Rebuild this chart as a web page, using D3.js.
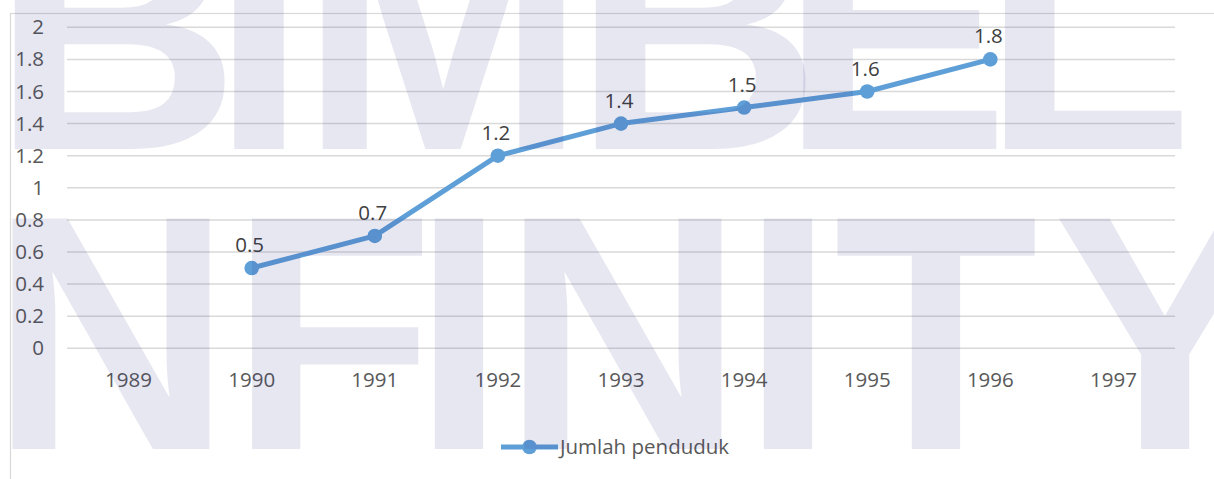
<!DOCTYPE html>
<html>
<head>
<meta charset="utf-8">
<script src="https://cdn.jsdelivr.net/npm/d3@7"></script>
<style>
  body { margin: 0; background: #fff; }
  svg { display: block; }
</style>
</head>
<body>
<div id="chart"></div>
<script>
// Jumlah penduduk per tahun (line chart with data labels)

const years = ["1989", "1990", "1991", "1992", "1993", "1994", "1995", "1996", "1997"];
const penduduk = [null, 0.5, 0.7, 1.2, 1.4, 1.5, 1.6, 1.8, null];
const yTicks = [0, 0.2, 0.4, 0.6, 0.8, 1, 1.2, 1.4, 1.6, 1.8, 2];
const yTickLabels = ["0", "0.2", "0.4", "0.6", "0.8", "1", "1.2", "1.4", "1.6", "1.8", "2"];
const seriesName = "Jumlah penduduk";

// watermark text (decoration only)
const wmTop = ["B", "I", "M", "B", "E", "L"];
const wmBottom = ["N", "F", "I", "N", "I", "T", "Y"];

const width = 1214, height = 479;
const plot = { left: 67, right: 1175, top: 27.3, bottom: 348.3 };
const blue = "#5f9fd8";
const fontSize = 20.5;

const svg = d3.select("#chart").append("svg")
  .attr("width", width)
  .attr("height", height);

// chart area border
svg.append("rect")
  .attr("x", 10.5).attr("y", 13.5)
  .attr("width", 1400).attr("height", 700)
  .attr("fill", "none")
  .attr("stroke", "#d9d9d9")
  .attr("stroke-width", 1.2);

const x = d3.scaleBand()
  .domain(years)
  .range([plot.left, plot.right]);

const y = d3.scaleLinear()
  .domain([0, 2])
  .range([plot.bottom, plot.top]);

// gridlines
svg.append("g")
  .selectAll("line")
  .data(yTicks)
  .join("line")
    .attr("x1", plot.left)
    .attr("x2", plot.right)
    .attr("y1", d => y(d))
    .attr("y2", d => y(d))
    .attr("stroke", "#d9d9d9")
    .attr("stroke-width", 1.5);

// y axis labels
const yAxis = d3.axisLeft(y)
  .tickValues(yTicks)
  .tickFormat((d, i) => yTickLabels[i])
  .tickSize(0)
  .tickPadding(0);

svg.append("g")
  .attr("transform", "translate(44,0)")
  .call(yAxis)
  .call(g => g.select(".domain").remove())
  .selectAll("text")
    .attr("fill", "#595959")
    .attr("font-family", "'Open Sans', sans-serif")
    .attr("font-size", fontSize);

// x axis labels
const xAxis = d3.axisBottom(x)
  .tickSize(0)
  .tickPadding(0);

svg.append("g")
  .attr("transform", `translate(0,${plot.bottom + 24})`)
  .call(xAxis)
  .call(g => g.select(".domain").remove())
  .selectAll("text")
    .attr("fill", "#595959")
    .attr("font-family", "'Open Sans', sans-serif")
    .attr("font-size", fontSize);

const points = years.map((yr, i) => ({ year: yr, value: penduduk[i] }))
  .filter(d => d.value != null);
const cx = d => x(d.year) + x.bandwidth() / 2;

const line = d3.line()
  .x(cx)
  .y(d => y(d.value));

svg.append("path")
  .datum(points)
  .attr("fill", "none")
  .attr("stroke", blue)
  .attr("stroke-width", 5)
  .attr("stroke-linejoin", "round")
  .attr("d", line);

svg.append("g")
  .selectAll("circle")
  .data(points)
  .join("circle")
    .attr("cx", cx)
    .attr("cy", d => y(d.value))
    .attr("r", 7.3)
    .attr("fill", blue);

// data labels
svg.append("g")
  .selectAll("text")
  .data(points)
  .join("text")
    .attr("x", d => cx(d) - 2)
    .attr("y", d => y(d.value) - 16)
    .attr("text-anchor", "middle")
    .attr("fill", "#404040")
    .attr("font-family", "'Open Sans', sans-serif")
    .attr("font-size", fontSize)
    .text(d => d.value);

// legend
const legend = svg.append("g").attr("transform", "translate(501,447)");
legend.append("line")
  .attr("x1", 0).attr("x2", 57)
  .attr("stroke", blue)
  .attr("stroke-width", 5);
legend.append("circle")
  .attr("cx", 28.5)
  .attr("r", 7.3)
  .attr("fill", blue);
legend.append("text")
  .attr("x", 59)
  .attr("dy", "0.35em")
  .attr("fill", "#595959")
  .attr("font-family", "'Open Sans', sans-serif")
  .attr("font-size", fontSize)
  .text(seriesName);

// watermark on top, semi transparent
const wmTopX = [116, 259, 443, 697, 895, 1087];
const wmBottomX = [111, 332, 459, 623, 788, 936, 1165];

const wm = svg.append("g")
  .attr("fill", "rgb(40,40,130)")
  .attr("fill-opacity", 0.11)
  .attr("font-family", "'Liberation Sans', Arial, sans-serif")
  .attr("font-weight", "bold")
  .attr("text-anchor", "middle")
  .style("pointer-events", "none");

wm.selectAll("text.top")
  .data(wmTop)
  .join("text")
    .attr("class", "top")
    .attr("x", (d, i) => wmTopX[i])
    .attr("y", 149)
    .attr("font-size", 344)
    .text(d => d);

wm.selectAll("text.bottom")
  .data(wmBottom)
  .join("text")
    .attr("class", "bottom")
    .attr("x", (d, i) => wmBottomX[i])
    .attr("y", 449)
    .attr("font-size", 335)
    .text(d => d);
</script>
</body>
</html>
